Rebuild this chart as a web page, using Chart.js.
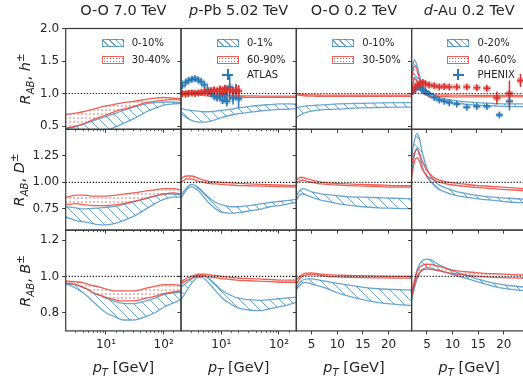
<!DOCTYPE html>
<html lang="en">
<head>
<meta charset="UTF-8">
<title>Nuclear modification factors</title>
<script src="https://cdn.jsdelivr.net/npm/chart.js"></script>
<style>
    body { margin: 0; background: #fff; font-family: "DejaVu Sans", sans-serif; color: #262626; }
    #fig { position: relative; width: 523px; height: 381px; overflow: hidden; }
    #fig canvas { position: absolute; left: 0; top: 0; }
    .txt { position: absolute; white-space: nowrap; line-height: 1; transform: translate(-50%, -50%); }
    .big { font-size: 14.5px; }
    .ylab { transform: translate(-50%, -50%) rotate(-90deg); }
    sub, sup { font-size: 0.7em; line-height: 0; }
    .legtxt { position: absolute; font-size: 10px; line-height: 1; white-space: nowrap; transform: translateY(-50%); }
    .sw { position: absolute; box-sizing: border-box; width: 22px; height: 8px; }
    .sw.blue { border: 1px solid rgba(31,119,180,0.65);
        background: repeating-linear-gradient(45deg, transparent 0 3.5px, rgba(31,119,180,0.65) 3.5px 4.7px); }
    .sw.red { border: 1px solid rgba(232,70,60,0.85);
        background-image: radial-gradient(rgba(232,70,60,0.9) 0.7px, transparent 1px); background-size: 3px 3px; }
    .cross { position: absolute; background: #2b78b3; }
</style>
</head>
<body>
<div id="fig"></div>
<script>
// ---------------- data ----------------
const ptLog = [2, 2.5, 3, 4, 5, 6, 8, 10, 15, 20, 30, 50, 70, 100, 150, 200];
const ptLin = [2, 2.5, 3, 3.5, 4, 5, 6, 7, 8, 10, 12, 15, 18, 21, 24.5];

// charged hadrons
const hOO7BlueLo = [0.44, 0.42, 0.40, 0.37, 0.35, 0.34, 0.36, 0.42, 0.49, 0.54, 0.61, 0.72, 0.77, 0.82, 0.84, 0.85];
const hOO7BlueHi = [0.46, 0.475, 0.49, 0.53, 0.555, 0.58, 0.62, 0.65, 0.70, 0.74, 0.79, 0.84, 0.86, 0.87, 0.87, 0.86];
const hOO7RedLo = [0.47, 0.485, 0.50, 0.53, 0.57, 0.60, 0.64, 0.67, 0.73, 0.76, 0.80, 0.86, 0.88, 0.90, 0.91, 0.90];
const hOO7RedHi = [0.68, 0.69, 0.70, 0.72, 0.74, 0.76, 0.79, 0.81, 0.84, 0.86, 0.88, 0.91, 0.93, 0.94, 0.93, 0.92];
const hPPbBlueLo = [0.69, 0.63, 0.59, 0.56, 0.56, 0.57, 0.60, 0.63, 0.67, 0.69, 0.71, 0.735, 0.745, 0.755, 0.76, 0.765];
const hPPbBlueHi = [0.77, 0.75, 0.74, 0.73, 0.72, 0.72, 0.73, 0.74, 0.76, 0.78, 0.80, 0.82, 0.83, 0.84, 0.84, 0.835];
const hPPbRedLo = [0.98, 0.99, 0.995, 0.985, 0.97, 0.96, 0.955, 0.95, 0.945, 0.945, 0.94, 0.94, 0.94, 0.94, 0.94, 0.94];
const hPPbRedHi = [1.02, 1.035, 1.04, 1.025, 1.0, 0.99, 0.98, 0.975, 0.97, 0.965, 0.965, 0.96, 0.96, 0.96, 0.96, 0.96];
const hOO02BlueLo = [0.63, 0.655, 0.68, 0.70, 0.71, 0.73, 0.74, 0.75, 0.755, 0.76, 0.77, 0.78, 0.785, 0.79, 0.79];
const hOO02BlueHi = [0.78, 0.79, 0.80, 0.805, 0.81, 0.815, 0.82, 0.825, 0.83, 0.84, 0.845, 0.85, 0.855, 0.86, 0.86];
const hOO02RedLo = [0.98, 0.975, 0.97, 0.965, 0.962, 0.96, 0.958, 0.957, 0.956, 0.955, 0.955, 0.955, 0.955, 0.955, 0.955];
const hOO02RedHi = [1.0, 0.995, 0.99, 0.985, 0.982, 0.98, 0.978, 0.977, 0.976, 0.975, 0.975, 0.975, 0.975, 0.975, 0.975];
const hDAuBlueLo = [1.0, 1.25, 1.22, 1.12, 1.05, 0.98, 0.94, 0.91, 0.89, 0.86, 0.84, 0.82, 0.81, 0.80, 0.80];
const hDAuBlueHi = [1.25, 1.52, 1.45, 1.30, 1.17, 1.05, 1.0, 0.96, 0.93, 0.90, 0.88, 0.86, 0.85, 0.84, 0.84];
const hDAuRedLo = [1.0, 1.22, 1.2, 1.1, 1.02, 0.97, 0.96, 0.955, 0.955, 0.95, 0.95, 0.95, 0.95, 0.95, 0.95];
const hDAuRedHi = [1.2, 1.42, 1.38, 1.25, 1.12, 1.02, 0.99, 0.98, 0.98, 0.975, 0.975, 0.97, 0.97, 0.97, 0.97];

// D mesons
const dOO7BlueLo = [0.67, 0.655, 0.64, 0.63, 0.62, 0.61, 0.60, 0.60, 0.615, 0.64, 0.68, 0.75, 0.80, 0.84, 0.86, 0.86];
const dOO7BlueHi = [0.77, 0.765, 0.76, 0.75, 0.752, 0.755, 0.76, 0.765, 0.775, 0.79, 0.815, 0.85, 0.87, 0.89, 0.89, 0.88];
const dOO7RedLo = [0.79, 0.795, 0.80, 0.79, 0.785, 0.78, 0.78, 0.78, 0.79, 0.80, 0.82, 0.85, 0.87, 0.89, 0.90, 0.89];
const dOO7RedHi = [0.86, 0.87, 0.88, 0.88, 0.875, 0.87, 0.87, 0.87, 0.88, 0.89, 0.90, 0.92, 0.93, 0.94, 0.94, 0.93];
const dPPbBlueLo = [0.85, 0.93, 0.96, 0.92, 0.86, 0.81, 0.75, 0.72, 0.71, 0.715, 0.73, 0.75, 0.77, 0.78, 0.80, 0.81];
const dPPbBlueHi = [0.88, 0.95, 0.98, 0.95, 0.90, 0.86, 0.81, 0.79, 0.77, 0.77, 0.78, 0.80, 0.81, 0.82, 0.83, 0.84];
const dPPbRedLo = [1.00, 1.03, 1.03, 1.01, 1.0, 0.99, 0.985, 0.98, 0.975, 0.97, 0.968, 0.965, 0.962, 0.96, 0.957, 0.955];
const dPPbRedHi = [1.04, 1.06, 1.06, 1.04, 1.02, 1.01, 1.005, 1.0, 0.995, 0.99, 0.985, 0.98, 0.978, 0.975, 0.972, 0.97];
const dOO02BlueLo = [0.83, 0.87, 0.89, 0.89, 0.88, 0.86, 0.845, 0.83, 0.82, 0.80, 0.785, 0.77, 0.76, 0.755, 0.75];
const dOO02BlueHi = [0.87, 0.91, 0.935, 0.94, 0.93, 0.91, 0.90, 0.89, 0.885, 0.875, 0.865, 0.86, 0.855, 0.85, 0.845];
const dOO02RedLo = [0.99, 1.01, 1.02, 1.02, 1.01, 1.0, 0.99, 0.985, 0.98, 0.975, 0.97, 0.965, 0.96, 0.955, 0.955];
const dOO02RedHi = [1.02, 1.04, 1.05, 1.045, 1.035, 1.02, 1.01, 1.0, 0.995, 0.99, 0.985, 0.98, 0.975, 0.97, 0.97];
const dDAuBlueLo = [1.10, 1.24, 1.32, 1.27, 1.16, 1.05, 0.99, 0.945, 0.92, 0.885, 0.865, 0.845, 0.83, 0.815, 0.805];
const dDAuBlueHi = [1.24, 1.38, 1.46, 1.42, 1.30, 1.13, 1.04, 0.99, 0.96, 0.925, 0.90, 0.875, 0.86, 0.85, 0.84];
const dDAuRedLo = [1.05, 1.18, 1.23, 1.20, 1.13, 1.06, 1.03, 1.01, 0.995, 0.975, 0.965, 0.95, 0.94, 0.93, 0.92];
const dDAuRedHi = [1.18, 1.27, 1.31, 1.28, 1.21, 1.11, 1.06, 1.03, 1.015, 0.995, 0.985, 0.97, 0.96, 0.95, 0.94];

// B mesons
const bOO7BlueLo = [0.96, 0.948, 0.935, 0.91, 0.885, 0.86, 0.825, 0.80, 0.775, 0.76, 0.76, 0.78, 0.80, 0.83, 0.855, 0.87];
const bOO7BlueHi = [0.96, 0.958, 0.955, 0.94, 0.925, 0.91, 0.895, 0.88, 0.86, 0.852, 0.85, 0.865, 0.88, 0.90, 0.91, 0.912];
const bOO7RedLo = [0.965, 0.96, 0.955, 0.94, 0.925, 0.91, 0.895, 0.885, 0.87, 0.865, 0.865, 0.88, 0.89, 0.905, 0.915, 0.92];
const bOO7RedHi = [0.975, 0.972, 0.97, 0.965, 0.955, 0.95, 0.94, 0.93, 0.92, 0.92, 0.92, 0.935, 0.945, 0.955, 0.955, 0.95];
const bPPbBlueLo = [0.87, 0.92, 0.96, 0.995, 0.99, 0.965, 0.92, 0.885, 0.845, 0.825, 0.815, 0.812, 0.822, 0.832, 0.845, 0.857];
const bPPbBlueHi = [0.94, 0.965, 0.986, 1.005, 1.005, 0.99, 0.955, 0.925, 0.895, 0.88, 0.872, 0.868, 0.872, 0.877, 0.882, 0.885];
const bPPbRedLo = [0.958, 0.978, 0.988, 1.0, 1.001, 0.998, 0.993, 0.988, 0.983, 0.978, 0.976, 0.973, 0.971, 0.968, 0.968, 0.968];
const bPPbRedHi = [0.97, 0.99, 1.0, 1.012, 1.013, 1.01, 1.005, 1.0, 0.995, 0.99, 0.988, 0.985, 0.983, 0.98, 0.98, 0.98];
const bOO02BlueLo = [0.925, 0.945, 0.96, 0.966, 0.966, 0.958, 0.95, 0.942, 0.933, 0.91, 0.893, 0.872, 0.856, 0.847, 0.84];
const bOO02BlueHi = [0.935, 0.96, 0.975, 0.983, 0.986, 0.986, 0.982, 0.977, 0.972, 0.962, 0.953, 0.94, 0.932, 0.928, 0.925];
const bOO02RedLo = [0.955, 0.98, 0.997, 1.005, 1.009, 1.011, 1.008, 1.004, 1.0, 0.997, 0.995, 0.993, 0.992, 0.991, 0.99];
const bOO02RedHi = [0.98, 0.995, 1.008, 1.015, 1.018, 1.019, 1.016, 1.012, 1.01, 1.007, 1.005, 1.003, 1.002, 1.0, 1.0];
const bDAuBlueLo = [0.87, 0.93, 0.98, 1.01, 1.035, 1.048, 1.045, 1.035, 1.027, 1.01, 0.995, 0.97, 0.945, 0.93, 0.92];
const bDAuBlueHi = [0.88, 0.96, 1.03, 1.065, 1.085, 1.095, 1.088, 1.07, 1.055, 1.03, 1.012, 0.985, 0.963, 0.95, 0.94];
const bDAuRedLo = [0.89, 0.95, 0.995, 1.02, 1.033, 1.04, 1.038, 1.033, 1.028, 1.016, 1.008, 1.0, 0.995, 0.992, 0.99];
const bDAuRedHi = [0.91, 0.97, 1.02, 1.048, 1.06, 1.067, 1.066, 1.058, 1.05, 1.035, 1.027, 1.02, 1.015, 1.011, 1.008];

// measurements
const atlasPt = [2.1, 2.4, 2.7, 3.1, 3.5, 4.0, 4.5, 5.1, 5.8, 6.6, 7.5, 8.5, 9.5, 10.5, 11.5, 12.5, 14, 16, 18, 20];
const atlasCentral = [1.12, 1.17, 1.20, 1.22, 1.23, 1.21, 1.18, 1.13, 1.06, 1.00, 0.96, 0.93, 0.97, 0.90, 0.98, 0.88, 1.10, 0.93, 1.03, 0.92];
const atlasCentralStat = [0.01, 0.01, 0.01, 0.01, 0.01, 0.01, 0.01, 0.015, 0.02, 0.02, 0.03, 0.04, 0.05, 0.06, 0.07, 0.08, 0.20, 0.10, 0.12, 0.14];
const atlasCentralSys = [0.04, 0.04, 0.04, 0.04, 0.04, 0.04, 0.04, 0.04, 0.04, 0.04, 0.04, 0.04, 0.04, 0.04, 0.04, 0.04, 0.04, 0.04, 0.04, 0.04];
const atlasPeriph = [1.0, 0.99, 1.0, 1.01, 1.0, 1.01, 1.02, 1.03, 1.02, 1.04, 1.06, 1.03, 1.07, 1.02, 1.08, 1.05, 1.06, 1.03, 1.06, 1.04];
const atlasPeriphStat = [0.01, 0.01, 0.01, 0.01, 0.01, 0.01, 0.015, 0.015, 0.02, 0.02, 0.03, 0.03, 0.04, 0.04, 0.05, 0.05, 0.06, 0.07, 0.08, 0.09];
const atlasPeriphSys = [0.04, 0.04, 0.04, 0.04, 0.04, 0.04, 0.04, 0.04, 0.04, 0.04, 0.04, 0.04, 0.04, 0.04, 0.04, 0.04, 0.04, 0.04, 0.04, 0.04];

const phenixPt = [2.25, 2.75, 3.25, 3.75, 4.25, 4.75, 5.5, 6.5, 7.5, 8.5, 9.5, 11, 13, 15, 17, 19.5, 21.5];
const phenixCentral = [1.03, 1.07, 1.10, 1.09, 1.06, 1.03, 0.99, 0.94, 0.90, 0.88, 0.86, 0.84, 0.79, 0.80, 0.80, 0.67, 0.88];
const phenixCentralStat = [0.005, 0.005, 0.005, 0.005, 0.006, 0.007, 0.008, 0.01, 0.01, 0.012, 0.015, 0.015, 0.02, 0.025, 0.03, 0.04, 0.14];
const phenixCentralSys = [0.03, 0.03, 0.03, 0.03, 0.03, 0.03, 0.03, 0.03, 0.03, 0.03, 0.03, 0.03, 0.03, 0.03, 0.03, 0.03, 0.03];
const phenixPeriphPt = [2.25, 2.75, 3.25, 3.75, 4.25, 4.75, 5.5, 6.5, 7.5, 8.5, 9.5, 11, 13, 15, 17, 19, 21.5, 23.7];
const phenixPeriph = [1.04, 1.10, 1.14, 1.16, 1.17, 1.15, 1.13, 1.12, 1.10, 1.11, 1.10, 1.10, 1.10, 1.09, 1.08, 0.93, 1.0, 1.2];
const phenixPeriphStat = [0.01, 0.01, 0.01, 0.01, 0.01, 0.01, 0.012, 0.012, 0.015, 0.015, 0.02, 0.02, 0.025, 0.03, 0.035, 0.1, 0.2, 0.1];
const phenixPeriphSys = [0.04, 0.04, 0.04, 0.04, 0.04, 0.04, 0.04, 0.04, 0.04, 0.04, 0.04, 0.04, 0.04, 0.04, 0.04, 0.04, 0.04, 0.04];

// axes
const xLimLog = [2, 200];
const xLimLin = [2, 24.5];
const xTicksLog = [10, 100];
const xTicksLin = [5, 10, 15, 20];
const yLims = [[0.45, 2.0], [0.55, 1.5], [0.70, 1.255]];
const yTicks = [[0.5, 1.0, 1.5, 2.0], [0.75, 1.0, 1.25], [0.8, 1.0, 1.2]];
const yTickLabels = [['0.5', '1.0', '1.5', '2.0'], ['0.75', '1.00', '1.25'], ['0.8', '1.0', '1.2']];

const colTitles = ['O-O 7.0 TeV', '<i>p</i>-Pb 5.02 TeV', 'O-O 0.2 TeV', '<i>d</i>-Au 0.2 TeV'];
const rowSpecies = ['h', 'D', 'B'];
const legendLabels = [['0-10%', '30-40%'], ['0-1%', '60-90%', 'ATLAS'], ['0-10%', '30-50%'], ['0-20%', '40-60%', 'PHENIX']];

const bandRows = [
    [[hOO7BlueLo, hOO7BlueHi, hOO7RedLo, hOO7RedHi], [hPPbBlueLo, hPPbBlueHi, hPPbRedLo, hPPbRedHi],
     [hOO02BlueLo, hOO02BlueHi, hOO02RedLo, hOO02RedHi], [hDAuBlueLo, hDAuBlueHi, hDAuRedLo, hDAuRedHi]],
    [[dOO7BlueLo, dOO7BlueHi, dOO7RedLo, dOO7RedHi], [dPPbBlueLo, dPPbBlueHi, dPPbRedLo, dPPbRedHi],
     [dOO02BlueLo, dOO02BlueHi, dOO02RedLo, dOO02RedHi], [dDAuBlueLo, dDAuBlueHi, dDAuRedLo, dDAuRedHi]],
    [[bOO7BlueLo, bOO7BlueHi, bOO7RedLo, bOO7RedHi], [bPPbBlueLo, bPPbBlueHi, bPPbRedLo, bPPbRedHi],
     [bOO02BlueLo, bOO02BlueHi, bOO02RedLo, bOO02RedHi], [bDAuBlueLo, bDAuBlueHi, bDAuRedLo, bDAuRedHi]]
];

// ---------------- layout / style ----------------
const W = 530, H = 381;
const colLeft = [65.7, 181.0, 296.3, 411.6], colWidth = 115.3;
const rowTop = [28.5, 129.3, 230.1], rowHeight = 100.8;
const ylabelX = [25, 18.5, 25];
const legendRowY = [43.3, 59.7, 74.5];
const yAxisBox = 60, xAxisBox = 28;   // room for tick labels (labels are clipped to the axis box)

const blueLine = 'rgba(31,119,180,0.65)';
const redLine = 'rgba(232,70,60,0.85)';
const blueMark = '#2b78b3', redMark = '#d8342e';
const tickColor = '#262626', frameColor = '#3a3a3a';
const sup = {1: '\u00b9', 2: '\u00b2'};

Chart.defaults.font.family = '"DejaVu Sans", sans-serif';

function hatchPattern(color) {
    const c = document.createElement('canvas');
    c.width = c.height = 10;
    const g = c.getContext('2d');
    g.strokeStyle = color;
    g.lineWidth = 1;
    g.beginPath();
    g.moveTo(-2, -2); g.lineTo(12, 12);
    g.moveTo(-2, 8); g.lineTo(2, 12);
    g.moveTo(8, -2); g.lineTo(12, 2);
    g.stroke();
    return g.createPattern(c, 'repeat');
}

function dotPattern(color) {
    const c = document.createElement('canvas');
    c.width = c.height = 4;
    const g = c.getContext('2d');
    g.fillStyle = color;
    g.beginPath();
    g.arc(2, 2, 0.8, 0, Math.PI * 2);
    g.fill();
    return g.createPattern(c, 'repeat');
}

const blueHatch = hatchPattern('rgba(31,119,180,0.65)');
const redDots = dotPattern('rgba(232,70,60,0.85)');

function xy(xs, ys) {
    return xs.map((x, i) => ({x: x, y: ys[i]}));
}

function band(xs, lo, hi, line, fillStyle, order) {
    const common = {borderColor: line, borderWidth: 1.3, pointRadius: 0, cubicInterpolationMode: 'monotone',
                    order: order, xAxisID: 'x', yAxisID: 'y'};
    return [
        Object.assign({data: xy(xs, lo), fill: false}, common),
        Object.assign({data: xy(xs, hi), fill: '-1', backgroundColor: fillStyle}, common)
    ];
}

function measured(pt, vals, stat, sys, color, boxColor) {
    return {data: xy(pt, vals), errs: stat, sys: sys, boxColor: boxColor, showLine: false,
            pointStyle: 'cross', pointRadius: 3.5, pointBorderWidth: 1.5, pointBorderColor: color,
            pointBackgroundColor: color, borderColor: color, order: 0, xAxisID: 'x', yAxisID: 'y'};
}

// error bars + boxes, and the panel frame
const extras = {
    id: 'extras',
    beforeDatasetDraw(chart, args) {
        const ds = chart.data.datasets[args.index];
        if (!ds.errs) return;
        const ctx = chart.ctx, a = chart.chartArea, x = chart.scales.x, y = chart.scales.y;
        ctx.save();
        ctx.beginPath();
        ctx.rect(a.left, a.top, a.right - a.left, a.bottom - a.top);
        ctx.clip();
        ctx.fillStyle = ds.boxColor;
        ds.data.forEach((p, i) => {
            const px = x.getPixelForValue(p.x);
            const y1 = y.getPixelForValue(p.y + ds.sys[i]);
            const y2 = y.getPixelForValue(p.y - ds.sys[i]);
            ctx.fillRect(px - 3.5, y1, 7, y2 - y1);
        });
        ctx.strokeStyle = ds.borderColor;
        ctx.lineWidth = 1.5;
        ctx.beginPath();
        ds.data.forEach((p, i) => {
            const px = x.getPixelForValue(p.x);
            ctx.moveTo(px, y.getPixelForValue(p.y + ds.errs[i]));
            ctx.lineTo(px, y.getPixelForValue(p.y - ds.errs[i]));
        });
        ctx.stroke();
        ctx.restore();
    },
    afterDraw(chart) {
        const ctx = chart.ctx, a = chart.chartArea;
        ctx.save();
        ctx.strokeStyle = frameColor;
        ctx.lineWidth = 1.2;
        ctx.strokeRect(a.left, a.top, a.right - a.left, a.bottom - a.top);
        ctx.restore();
    }
};

const fig = document.getElementById('fig');

function makePanel(r, c) {
    const canvas = document.createElement('canvas');
    canvas.width = W;
    canvas.height = H;
    fig.appendChild(canvas);

    const isLog = c < 2;
    const xs = isLog ? ptLog : ptLin;
    const xLim = isLog ? xLimLog : xLimLin;
    const xMajor = isLog ? xTicksLog : xTicksLin;
    const [bLo, bHi, rLo, rHi] = bandRows[r][c];
    const yW = c === 0 ? yAxisBox : 0;
    const xH = r === 2 ? xAxisBox : 0;

    const datasets = [];
    datasets.push({data: [{x: xLim[0], y: 1}, {x: xLim[1], y: 1}], borderColor: '#111', borderWidth: 1.1,
                   borderDash: [1.2, 1.8], pointRadius: 0, fill: false, order: -1, xAxisID: 'x', yAxisID: 'y'});
    datasets.push(...band(xs, bLo, bHi, blueLine, blueHatch, 3));
    datasets.push(...band(xs, rLo, rHi, redLine, redDots, 2));
    if (r === 0 && c === 1) {
        datasets.push(measured(atlasPt, atlasPeriph, atlasPeriphStat, atlasPeriphSys, redMark, 'rgba(214,39,40,0.4)'));
        datasets.push(measured(atlasPt, atlasCentral, atlasCentralStat, atlasCentralSys, blueMark, 'rgba(31,119,180,0.4)'));
    }
    if (r === 0 && c === 3) {
        datasets.push(measured(phenixPeriphPt, phenixPeriph, phenixPeriphStat, phenixPeriphSys, redMark, 'rgba(214,39,40,0.4)'));
        datasets.push(measured(phenixPt, phenixCentral, phenixCentralStat, phenixCentralSys, blueMark, 'rgba(31,119,180,0.4)'));
    }

    const scales = {
        x: {
            type: isLog ? 'logarithmic' : 'linear', min: xLim[0], max: xLim[1], bounds: 'data',
            position: 'bottom', weight: 1,
            afterFit: s => { s.height = xH; },
            afterBuildTicks: s => { s.ticks = xMajor.map(v => ({value: v, major: true})); },
            ticks: {display: r === 2, autoSkip: false, maxRotation: 0, padding: 3, color: tickColor,
                    font: {size: 12},
                    callback: v => isLog ? '10' + sup[Math.round(Math.log10(v))] : String(v)},
            grid: {drawOnChartArea: false, drawTicks: true, tickLength: 3.5, tickWidth: 1, tickColor: frameColor},
            border: {display: false}
        },
        y: {
            type: 'linear', min: yLims[r][0], max: yLims[r][1], bounds: 'data', position: 'left',
            afterFit: s => { s.width = yW; },
            afterBuildTicks: s => { s.ticks = yTicks[r].map(v => ({value: v})); },
            ticks: {display: c === 0, autoSkip: false, padding: 3, color: tickColor, font: {size: 12},
                    callback: (v, i) => yTickLabels[r][i]},
            grid: {drawOnChartArea: false, drawTicks: true, tickLength: 3.5, tickWidth: 1, tickColor: frameColor},
            border: {display: false}
        }
    };
    if (isLog) {
        scales.xm = {
            type: 'logarithmic', min: xLim[0], max: xLim[1], bounds: 'data', position: 'bottom', weight: 0,
            afterFit: s => { s.height = 0; },
            afterBuildTicks: s => {
                s.ticks = s.ticks.filter(t => !xMajor.includes(t.value) && t.value > xLim[0] && t.value < xLim[1]);
            },
            ticks: {display: false},
            grid: {drawOnChartArea: false, drawTicks: true, tickLength: 2, tickWidth: 0.8, tickColor: frameColor},
            border: {display: false}
        };
    }

    new Chart(canvas, {
        type: 'line',
        data: {datasets: datasets},
        options: {
            responsive: false,
            animation: false,
            devicePixelRatio: 1,
            events: [],
            layout: {padding: {left: colLeft[c] - yW, top: rowTop[r],
                               right: W - colLeft[c] - colWidth, bottom: H - rowTop[r] - rowHeight - xH}},
            plugins: {legend: {display: false}, tooltip: {enabled: false}},
            scales: scales
        },
        plugins: [extras]
    });
}

for (let r = 0; r < 3; r++) {
    for (let c = 0; c < 4; c++) makePanel(r, c);
}

// ---------------- text: titles, axis labels, legends ----------------
function addText(html, x, y, cls) {
    const d = document.createElement('div');
    d.className = 'txt ' + cls;
    d.innerHTML = html;
    d.style.left = x + 'px';
    d.style.top = y + 'px';
    fig.appendChild(d);
}

colTitles.forEach((t, c) => addText(t, colLeft[c] + colWidth / 2, 10, 'big'));
rowSpecies.forEach((s, r) => addText('<i>R</i><sub><i>AB</i></sub>, <i>' + s + '</i><sup>\u00b1</sup>',
                                     ylabelX[r], rowTop[r] + rowHeight / 2, 'big ylab'));
colTitles.forEach((t, c) => addText('<i>p</i><sub><i>T</i></sub> [GeV]', colLeft[c] + colWidth / 2, 367, 'big'));

legendLabels.forEach((labels, c) => {
    const right = colLeft[c] + colWidth;
    labels.forEach((lab, i) => {
        const y = legendRowY[i];
        if (i < 2) {
            const sw = document.createElement('div');
            sw.className = 'sw ' + (i === 0 ? 'blue' : 'red');
            sw.style.left = (right - 79.5) + 'px';
            sw.style.top = (y - 4) + 'px';
            fig.appendChild(sw);
        } else {
            const cx = right - 68.5;
            const h = document.createElement('div');
            h.className = 'cross';
            h.style.cssText = 'left:' + (cx - 5.5) + 'px;top:' + (y - 1) + 'px;width:11px;height:2px;';
            const v = document.createElement('div');
            v.className = 'cross';
            v.style.cssText = 'left:' + (cx - 1) + 'px;top:' + (y - 5.5) + 'px;width:2px;height:11px;';
            fig.appendChild(h);
            fig.appendChild(v);
        }
        const t = document.createElement('div');
        t.className = 'legtxt';
        t.textContent = lab;
        t.style.left = (right - 49.3) + 'px';
        t.style.top = y + 'px';
        fig.appendChild(t);
    });
});
</script>
</body>
</html>
